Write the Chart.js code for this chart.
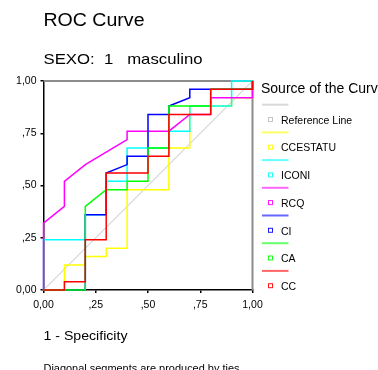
<!DOCTYPE html>
<html><head><meta charset="utf-8">
<script src="https://cdn.jsdelivr.net/npm/chart.js@4/dist/chart.umd.min.js"></script>
<style>html,body{margin:0;padding:0;background:#fff;overflow:hidden}#wrap{position:relative;width:378px;height:370px}canvas{display:block}</style>
</head><body><div id="wrap"><canvas id="c" width="378" height="370"></canvas></div>
<script>
// ---- text ----
const chartTitle = 'ROC Curve';
const chartSubtitle = 'SEXO:  1   masculino';
const xAxisTitle = '1 - Specificity';
const footnote = 'Diagonal segments are produced by ties.';
const legendTitle = 'Source of the Curve';

// ---- series ----
const seriesNames = ['Reference Line', 'CCESTATU', 'ICONI', 'RCQ', 'CI', 'CA', 'CC'];
const seriesColors = ['#c0c0c0', '#ffff00', '#00ffff', '#ff00ff', '#0000ff', '#00ff00', '#ff0000'];

// ---- axis ticks ----
const tickValues = [0, 0.25, 0.5, 0.75, 1];
const tickLabels = ['0,00', ',25', ',50', ',75', '1,00'];

// ---- ROC coordinates (1 - specificity, sensitivity) ----
const refX = [0, 1];
const refY = [0, 1];
const ccestatuX = [0, 0.1, 0.1, 0.2, 0.2, 0.3, 0.3, 0.4, 0.4, 0.6, 0.6, 0.7, 0.7, 0.9, 0.9, 1, 1];
const ccestatuY = [0, 0, 0.12, 0.12, 0.16, 0.16, 0.20, 0.20, 0.48, 0.48, 0.68, 0.68, 0.88, 0.88, 0.92, 0.92, 1];
const iconiX = [0, 0, 0.2, 0.2, 0.3, 0.3, 0.4, 0.4, 0.6, 0.6, 0.7, 0.7, 0.9, 0.9, 1];
const iconiY = [0, 0.24, 0.24, 0.36, 0.36, 0.52, 0.52, 0.68, 0.68, 0.76, 0.76, 0.88, 0.88, 1, 1];
const rcqX = [0, 0, 0.1, 0.1, 0.2, 0.4, 0.4, 0.6, 0.7, 0.8, 0.8, 1, 1];
const rcqY = [0, 0.32, 0.40, 0.52, 0.60, 0.72, 0.76, 0.76, 0.84, 0.84, 0.92, 0.92, 1];
const ciX = [0, 0.2, 0.2, 0.3, 0.3, 0.4, 0.4, 0.5, 0.5, 0.6, 0.6, 0.7, 0.7, 1, 1];
const ciY = [0, 0, 0.36, 0.36, 0.56, 0.60, 0.64, 0.64, 0.84, 0.84, 0.88, 0.92, 0.96, 0.96, 1];
const caX = [0, 0.2, 0.2, 0.3, 0.4, 0.4, 0.5, 0.5, 0.6, 0.6, 0.8, 0.8, 1, 1];
const caY = [0, 0, 0.40, 0.48, 0.48, 0.52, 0.52, 0.68, 0.68, 0.88, 0.88, 0.96, 0.96, 1];
const ccX = [0, 0.1, 0.1, 0.2, 0.2, 0.3, 0.3, 0.5, 0.5, 0.6, 0.6, 0.8, 0.8, 1, 1];
const ccY = [0, 0, 0.04, 0.04, 0.24, 0.24, 0.56, 0.56, 0.64, 0.64, 0.84, 0.84, 0.96, 0.96, 1];

const seriesX = [refX, ccestatuX, iconiX, rcqX, ciX, caX, ccX];
const seriesY = [refY, ccestatuY, iconiY, rcqY, ciY, caY, ccY];

const FONT = '"Liberation Sans", Arial, Helvetica, sans-serif';

function toPoints(xs, ys) { return xs.map((x, i) => ({ x: x, y: ys[i] })); }

const datasets = seriesNames.map((name, i) => ({
  label: name,
  data: toPoints(seriesX[i], seriesY[i]),
  borderColor: seriesColors[i],
  backgroundColor: seriesColors[i],
  borderWidth: i === 0 ? 1 : 1.5,
  pointRadius: 0,
  pointHoverRadius: 0,
  showLine: true,
  tension: 0,
  fill: false,
  clip: false,
  order: seriesNames.length - i
}));

function fitText(ctx, text, x, y, size, targetWidth) {
  ctx.save();
  ctx.font = size + 'px ' + FONT;
  const w = ctx.measureText(text).width;
  const sx = targetWidth ? targetWidth / w : 1;
  ctx.translate(x, y);
  ctx.scale(sx, 1);
  ctx.fillText(text, 0, 0);
  ctx.restore();
}

const decorPlugin = {
  id: 'decor',
  beforeDatasetsDraw(chart) {
    const { ctx, chartArea: a } = chart;
    ctx.save();
    ctx.strokeStyle = '#8c8c8c';
    ctx.lineWidth = 2;
    ctx.beginPath();
    ctx.moveTo(a.left, a.top);
    ctx.lineTo(a.right, a.top);
    ctx.lineTo(a.right, a.bottom);
    ctx.stroke();
    ctx.restore();
  },
  afterDraw(chart) {
    const { ctx, chartArea: a } = chart;
    ctx.save();
    ctx.fillStyle = '#000';
    ctx.textBaseline = 'alphabetic';
    ctx.textAlign = 'left';
    fitText(ctx, chartTitle, a.left, 26, 17.5, 101);
    fitText(ctx, chartSubtitle, a.left, 63.5, 14.5, 159);
    fitText(ctx, xAxisTitle, a.left, 340, 13, 84);
    fitText(ctx, footnote, a.left, 372, 10.5, 199);
    // legend
    fitText(ctx, legendTitle, 261, 93, 14, 0);
    const lineY0 = 104.7, textY0 = 120, step = 27.7;
    seriesNames.forEach((name, i) => {
      const ly = lineY0 + i * step;
      const ty = textY0 + i * step;
      ctx.save();
      ctx.globalAlpha = 0.6;
      ctx.strokeStyle = seriesColors[i];
      ctx.lineWidth = 2;
      ctx.beginPath();
      ctx.moveTo(262, ly);
      ctx.lineTo(288.5, ly);
      ctx.stroke();
      ctx.globalAlpha = 0.9;
      ctx.lineWidth = 1;
      ctx.strokeRect(268.5, ty - 2.5, 4, 4);
      ctx.restore();
      ctx.fillStyle = '#000';
      fitText(ctx, name, 281, ty + 3.7, 10.5, 0);
    });
    ctx.restore();
  }
};

const axisCommon = {
  type: 'linear',
  min: 0,
  max: 1,
  afterBuildTicks: (scale) => { scale.ticks = tickValues.map(v => ({ value: v })); },
  grid: { display: true, drawOnChartArea: false, drawTicks: true, tickLength: 3, color: '#000', lineWidth: 1.5 },
  border: { display: true, color: '#000', width: 1.5 }
};

new Chart(document.getElementById('c'), {
  type: 'scatter',
  data: { datasets: datasets },
  options: {
    responsive: false,
    animation: false,
    devicePixelRatio: 1,
    layout: { padding: { left: 0, top: 81, right: 125.5, bottom: 60 } },
    plugins: { legend: { display: false }, tooltip: { enabled: false }, title: { display: false } },
    scales: {
      x: Object.assign({}, axisCommon, {
        position: 'bottom',
        afterFit: (s) => { s.height = 20; },
        ticks: { autoSkip: false, maxRotation: 0, padding: 5.5, color: '#000', font: { size: 10.5, family: FONT },
          callback: (v) => tickLabels[tickValues.indexOf(v)] }
      }),
      y: Object.assign({}, axisCommon, {
        position: 'left',
        afterFit: (s) => { s.width = 43.5; },
        ticks: { autoSkip: false, padding: 4, color: '#000', font: { size: 10.5, family: FONT },
          callback: (v) => tickLabels[tickValues.indexOf(v)] }
      })
    }
  },
  plugins: [decorPlugin]
});
</script>
</body></html>
